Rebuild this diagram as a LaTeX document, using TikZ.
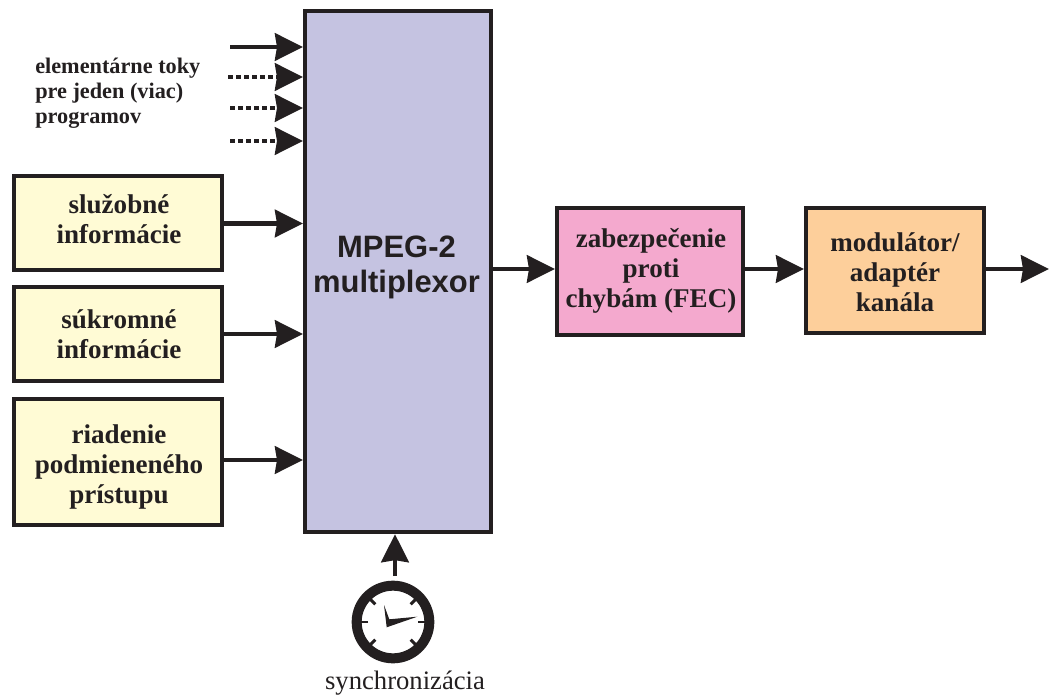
\documentclass[tikz,border=0pt]{standalone}
\usepackage{fontspec}
\setmainfont{Liberation Serif}
\newfontfamily\headfont{Liberation Sans}
\usetikzlibrary{positioning,calc,arrows.meta}
\definecolor{inkc}{HTML}{231F20}
\definecolor{muxc}{HTML}{C5C3E1}
\definecolor{yelc}{HTML}{FFFBD5}
\definecolor{pinkc}{HTML}{F4A9CE}
\definecolor{orac}{HTML}{FDCF9B}
\tikzset{
    block/.style={draw=inkc, line width=3pt, rectangle, inner sep=0pt},
    infobox/.style={block, fill=yelc, minimum width=156pt},
    blocktext/.style={align=center, text=inkc, inner sep=0pt, font=\fontsize{20.3}{22.5}\selectfont\bfseries},
    flow/.style={-{Stealth[length=21pt,width=20.5pt,inset=1.5pt]}, draw=inkc, line width=3.4pt},
    dotflow/.style={flow, dash pattern=on 3.6pt off 2.4pt}
}
\begin{document}
\begin{tikzpicture}[x=0.75pt,y=-0.75pt]
    \useasboundingbox (0,0) rectangle (1049,695);

    % Multiplexor
    \node [block, fill=muxc, minimum width=139.5pt, minimum height=391pt] (mux) at (398,271.5) {};
    \node [blocktext, font=\fontsize{23.2}{26.25}\selectfont\headfont\bfseries] (muxtext) at (396.5,267) {MPEG-2\\multiplexor};

    % Input boxes
    \node [infobox, minimum height=70.5pt] (sluz) at (118,223.5) {};
    \node [blocktext] (sluztext) at (119,219) {služobné\\informácie};
    \node [infobox, minimum height=70.5pt] (sukr) at (118,334) {};
    \node [blocktext] (sukrtext) at (119,334) {súkromné\\informácie};
    \node [infobox, minimum height=94pt] (ried) at (118,462) {};
    \node [blocktext] (riedtext) at (119,467) {riadenie\\podmieneného\\prístupu};
    \coordinate (riedout) at (ried.east |- 0,460);
    \draw [flow] (sluz) -- (sluz -| mux.west);
    \draw [flow] (sukr) -- (sukr -| mux.west);
    \draw [flow] (riedout) -- (riedout -| mux.west);

    % Elementary streams
    \node [text=inkc, align=left, anchor=north west, inner sep=0pt, font=\fontsize{16.7}{18.75}\selectfont\bfseries] (toky) at (35,58) {elementárne toky\\pre jeden (viac)\\programov};
    \coordinate (in1) at (230,47);
    \coordinate (in2) at (228,77);
    \coordinate (in3) at (230,108);
    \coordinate (in4) at (230,141);
    \draw [flow] (in1) -- (in1 -| mux.west);
    \draw [dotflow] (in2) -- (in2 -| mux.west);
    \draw [dotflow] (in3) -- (in3 -| mux.west);
    \draw [dotflow] (in4) -- (in4 -| mux.west);

    % Output chain
    \node [block, fill=pinkc, minimum width=139.5pt, minimum height=95pt] (fec) at (650,271.5) {};
    \node [blocktext] (fectext) at (651,271) {zabezpečenie\\proti\\chybám (FEC)};
    \node [block, fill=orac, minimum width=133.5pt, minimum height=93.5pt] (mod) at (895,270.5) {};
    \node [blocktext] (modtext) at (895,272) {modulátor/\\adaptér\\kanála};
    \coordinate (outline) at (0,269);
    \coordinate (outend) at (1049,269);
    \draw [flow] (outline -| mux.east) -- (outline -| fec.west);
    \draw [flow] (outline -| fec.east) -- (outline -| mod.west);
    \draw [flow] (outline -| mod.east) -- (outend);

    % Clock
    \node [circle, draw=inkc, line width=7.5pt, fill=white, minimum size=54.5pt, inner sep=0pt] (clock) at (393,622) {};
    \foreach \ang in {0,45,135,180,225,315}
        \draw [inkc, line width=2.2pt] (clock.center) ++(\ang:25) -- ++(\ang:8);
    \fill [inkc] (384,605) -- (389.3,619.3) -- (417.3,616.7) -- (386.7,627.3) -- cycle;
    \coordinate (clocktop) at (395,576);
    \draw [flow] (clocktop) -- (clocktop |- mux.south);
    \node [below=5.7pt of clock, inner sep=0pt, text=inkc, font=\fontsize{20}{24}\selectfont, xshift=9pt] (sync) {synchronizácia};

\end{tikzpicture}
\end{document}
